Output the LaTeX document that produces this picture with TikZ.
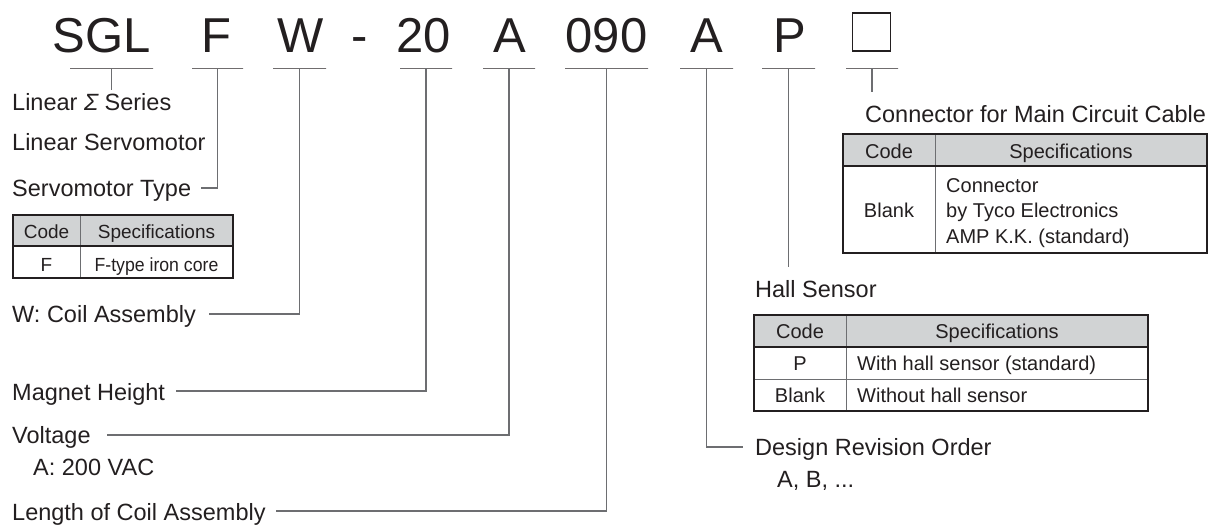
\documentclass[tikz,border=0pt]{standalone}
\usepackage{fontspec}
\setmainfont{Liberation Sans}
\usepackage{graphicx}
\definecolor{ink}{HTML}{231F20}
\definecolor{leadgray}{HTML}{6D6E71}
\definecolor{hdrgray}{HTML}{D1D3D4}

\begin{document}
\begin{tikzpicture}[x=1pt,y=-1pt,
    code/.style={font=\fontsize{49}{55}\selectfont, text=ink, inner sep=0pt, anchor=base},
    ubar/.style={draw=ink, line width=0.9pt, inner sep=0pt, minimum height=0pt},
    lbl/.style={font=\fontsize{23.5}{27}\selectfont, text=ink, inner sep=0pt, anchor=base west},
    lead/.style={draw=leadgray, line width=1.1pt},
    cell/.style={font=\fontsize{20}{24}\selectfont, text=ink, inner sep=0pt, anchor=base},
    celll/.style={cell, anchor=base west},
    frame/.style={draw=ink, line width=1.6pt},
    grid/.style={draw=leadgray, line width=1pt},
    hline/.style={draw=ink, line width=1.6pt}]
    \useasboundingbox (0,0) rectangle (1211,525);

    % model code
    \node[code] (sgl) at (101.5,52) {SGL};
    \node[code] (f)   at (216,52)   {F};
    \node[code] (w)   at (301,52)   {W};
    \node[code] (dash) at (360,52)  {-};
    \node[code] (ht)  at (423.5,52) {20};
    \node[code] (v)   at (510,52)   {A};
    \node[code] (len) at (606.5,52) {090};
    \node[code] (rv)  at (706.5,52) {A};
    \node[code] (p)   at (790,52)   {P};
    \node[draw=ink, line width=1.3pt, minimum size=38pt, inner sep=0pt] (box) at (871.5,32) {};

    % underlines
    \node[ubar, minimum width=83pt] (uSGL) at (111.5,68) {};
    \node[ubar, minimum width=51pt] (uF)   at (217.5,68) {};
    \node[ubar, minimum width=53pt] (uW)   at (299.5,68) {};
    \node[ubar, minimum width=52pt] (uHt)  at (426,68)   {};
    \node[ubar, minimum width=52pt] (uV)   at (509,68)   {};
    \node[ubar, minimum width=83pt] (uLen) at (606.5,68) {};
    \node[ubar, minimum width=53pt] (uRv)  at (706.5,68) {};
    \node[ubar, minimum width=53pt] (uP)   at (788.5,68) {};
    \node[ubar, minimum width=52pt] (uBox) at (872,68)   {};

    % left labels
    \node[lbl] (series) at (12,110) {Linear {\itshape Σ} Series};
    \node[lbl] (servo)  at (12,150) {Linear Servomotor};
    \node[lbl] (type)   at (12,196) {Servomotor Type};
    \node[lbl] (coil)   at (12,322) {W: Coil Assembly};
    \node[lbl] (mag)    at (12,400) {Magnet Height};
    \node[lbl] (volt)   at (12,443) {Voltage};
    \node[lbl] (vac)    at (33,475) {A: 200 VAC};
    \node[lbl] (clen)   at (12,520) {Length of Coil Assembly};

    % right labels
    \node[lbl] (conn) at (865,122) {Connector for Main Circuit Cable};
    \node[lbl] (hall) at (755,297) {Hall Sensor};
    \node[lbl] (rev)  at (755,455) {Design Revision Order};
    \node[lbl] (abc)  at (777,487) {A, B, ...};

    % leaders
    \draw[lead] (uSGL.south) -- ++(0,22);
    \draw[lead] (uF.south) |- ([shift={(10,-8)}]type.base east);
    \draw[lead] (uW.south) |- ([shift={(13,-8)}]coil.base east);
    \draw[lead] (uHt.south) |- ([shift={(11,-9)}]mag.base east);
    \draw[lead] (uV.south) |- ([shift={(16,-8)}]volt.base east);
    \draw[lead] (uLen.south) |- ([shift={(10,-9)}]clen.base east);
    \draw[lead] (uRv.south) |- ([shift={(-12,-8)}]rev.base west);
    \draw[lead] (uP.south) -- ([yshift=13pt]uP.south |- hall.north);
    \draw[lead] (uBox.south) -- ++(0,24);

    % table: servomotor type
    \fill[hdrgray] (13,215) rectangle (233,246);
    \draw[grid] (80,215) -- (80,278);
    \draw[hline] (13,246) -- (233,246);
    \draw[frame] (13,215) rectangle (233,278);
    \node[cell, font=\fontsize{19}{23}\selectfont] (c1a) at (46.5,238) {Code};
    \node[cell, font=\fontsize{19}{23}\selectfont] (c1b) at (156.5,238) {Specifications};
    \node[cell, font=\fontsize{19}{23}\selectfont] (c1c) at (46.5,271) {F};
    \node[cell, font=\fontsize{19}{23}\selectfont] (c1d) at (156.5,271) {\scalebox{0.93}[1]{F-type iron core}};

    % table: connector
    \fill[hdrgray] (843,134) rectangle (1207,166);
    \draw[grid] (935,134) -- (935,253);
    \draw[hline] (843,166) -- (1207,166);
    \draw[frame] (843,134) rectangle (1207,253);
    \node[cell] (c2a) at (889,158) {Code};
    \node[cell] (c2b) at (1071,158) {Specifications};
    \node[cell] (c2c) at (889,217) {Blank};
    \node[celll] (c2d) at (946,192) {Connector};
    \node[celll] (c2e) at (946,217) {by Tyco Electronics};
    \node[celll] (c2f) at (946,243) {AMP K.K. (standard)};

    % table: hall sensor
    \fill[hdrgray] (754,315) rectangle (1148,347);
    \draw[grid] (846,315) -- (846,411) (754,379) -- (1148,379);
    \draw[hline] (754,347) -- (1148,347);
    \draw[frame] (754,315) rectangle (1148,411);
    \node[cell] (c3a) at (800,338) {Code};
    \node[cell] (c3b) at (997,338) {Specifications};
    \node[cell] (c3c) at (800,370) {P};
    \node[celll] (c3d) at (857,370) {With hall sensor (standard)};
    \node[cell] (c3e) at (800,402) {Blank};
    \node[celll] (c3f) at (857,402) {Without hall sensor};
\end{tikzpicture}
\end{document}
